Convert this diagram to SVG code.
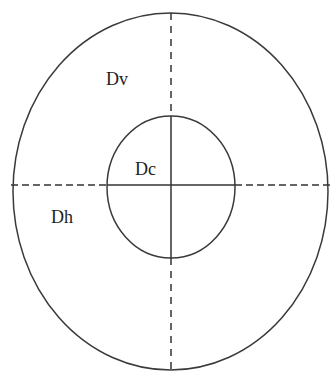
<svg xmlns="http://www.w3.org/2000/svg" width="331" height="372" viewBox="0 0 331 372">
<style>
.sh{fill:none;stroke:#3a3a3a;stroke-width:1.5}
.ln{stroke:#333;stroke-width:1.5;fill:none}
.dv{stroke-dasharray:7 6}
.dh{stroke-dasharray:7 4}
.lb{font-family:"Liberation Serif",serif;font-size:18px;fill:#222}
</style>
<rect width="331" height="372" fill="#fff"/>
<g id="outer"><ellipse class="sh" cx="170.5" cy="191.5" rx="157.5" ry="178.5"/></g>
<g id="inner"><ellipse class="sh" cx="171" cy="187" rx="64" ry="71"/></g>
<g id="connectors">
<line class="ln dv" x1="171" y1="13" x2="171" y2="116"/>
<line class="ln dv" x1="171" y1="258" x2="171" y2="370"/>
<line class="ln" x1="171" y1="116" x2="171" y2="258"/>
<line class="ln dh" x1="11" y1="185" x2="107" y2="185"/>
<line class="ln dh" x1="235" y1="185" x2="331" y2="185"/>
<line class="ln" x1="107" y1="185" x2="235" y2="185"/>
</g>
<g id="Dv"><text class="lb" x="106" y="85">Dv</text></g>
<g id="Dc"><text class="lb" x="135" y="175">Dc</text></g>
<g id="Dh"><text class="lb" x="51" y="223">Dh</text></g>
</svg>
